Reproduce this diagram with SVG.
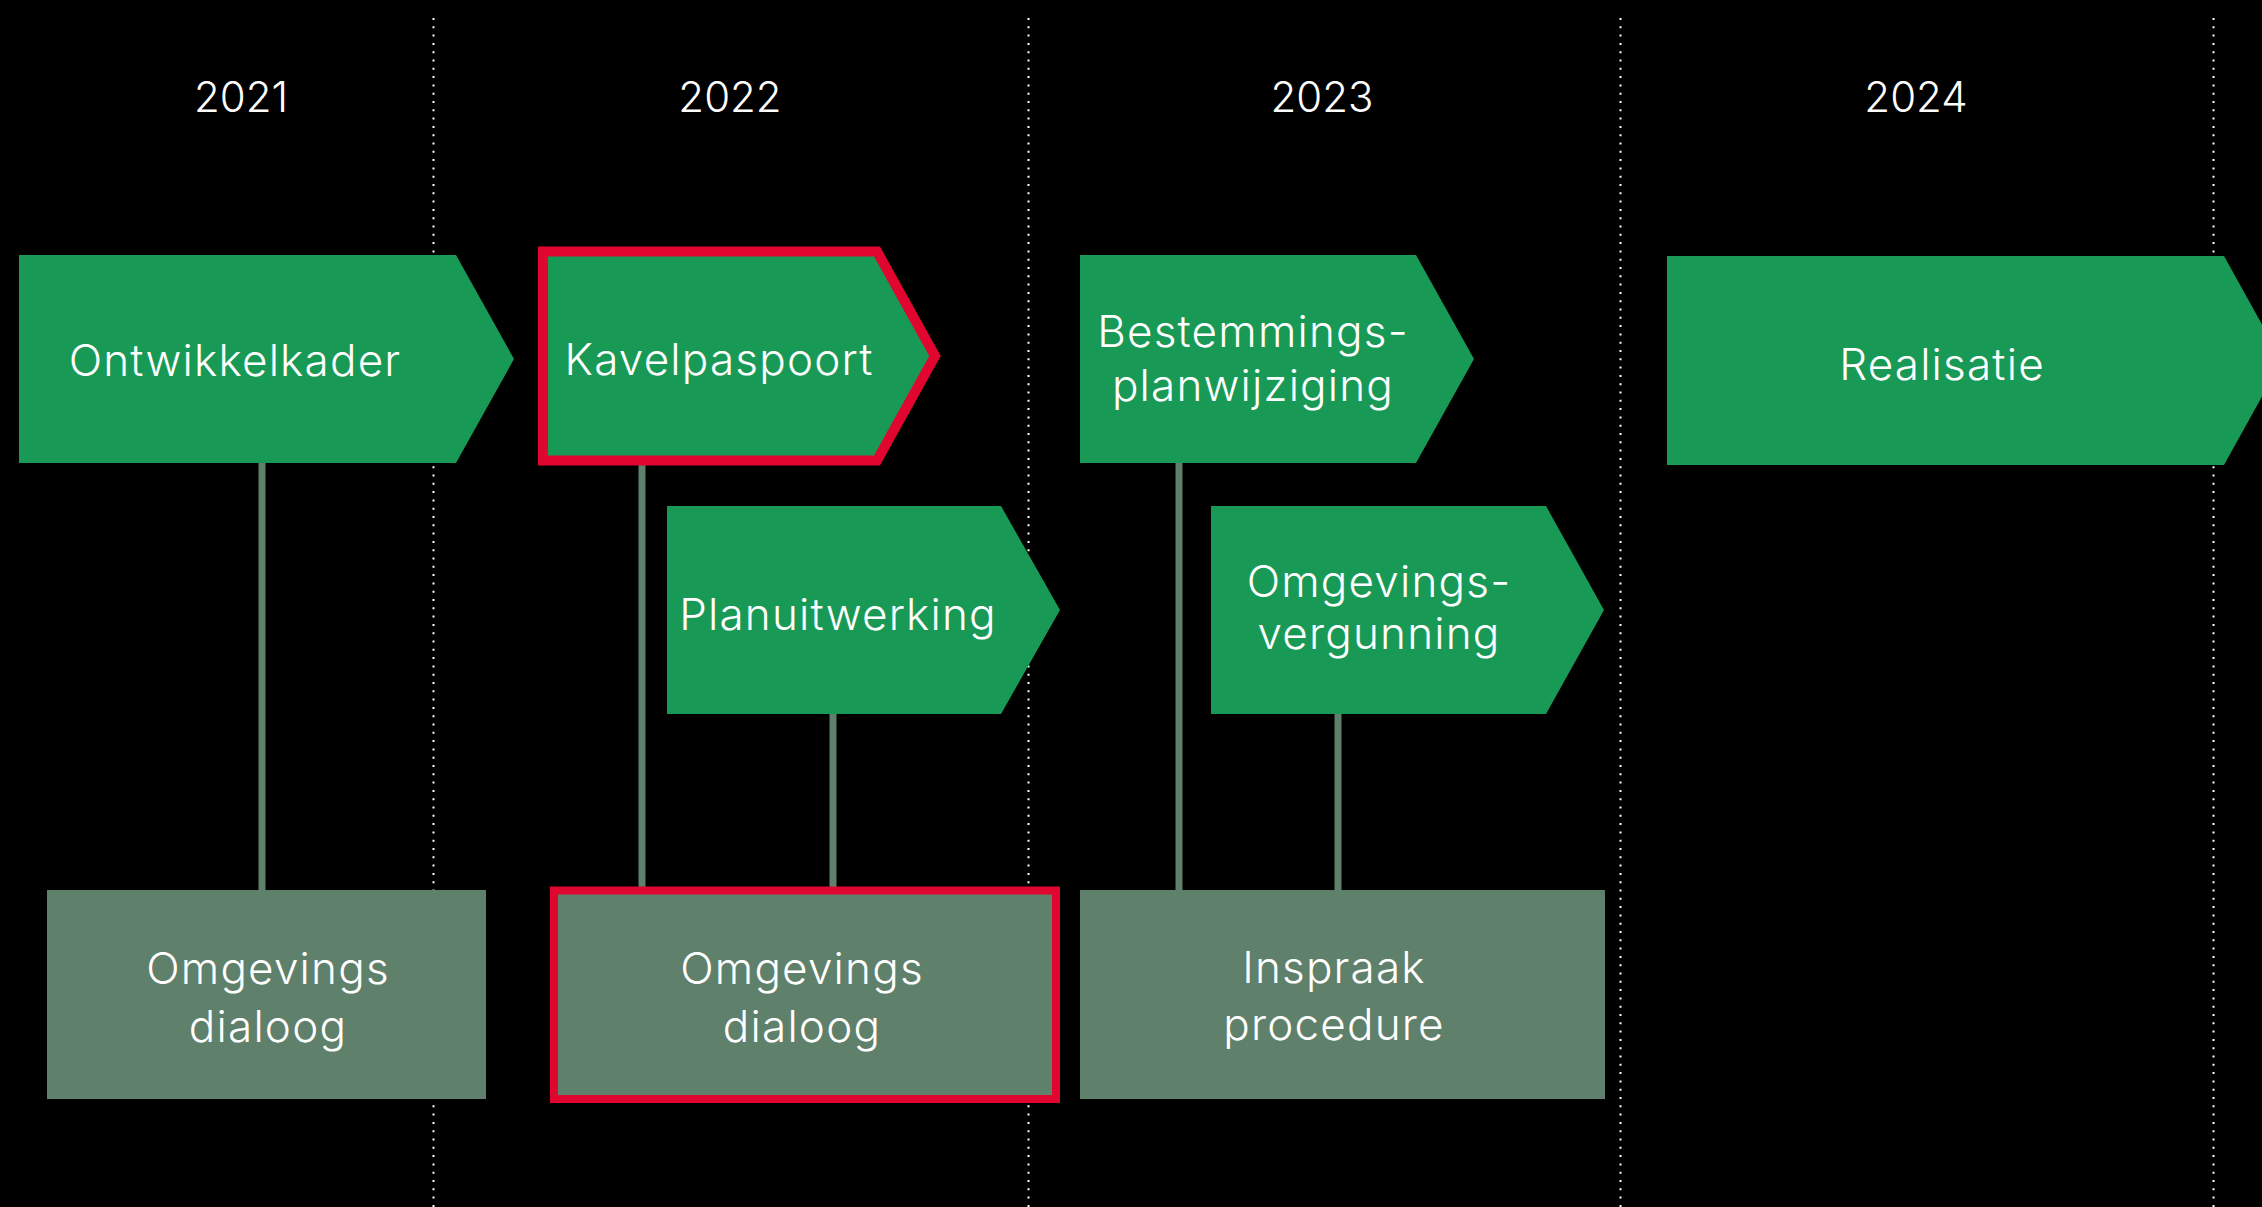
<svg xmlns="http://www.w3.org/2000/svg" width="2262" height="1207" viewBox="0 0 2262 1207">
<style>
.grid{stroke:#ffffff;stroke-width:2;stroke-dasharray:2 6.3;fill:none}
.conn{stroke:#5f806a;stroke-width:7;fill:none}
.phase{fill:#189a56}
.sub{fill:#5f806a}
.hl{stroke:#e0062f;stroke-width:10;stroke-linejoin:miter}
.hl2{stroke:#e0062f;stroke-width:8}
text{font-family:Inter,"Open Sans","Liberation Sans",sans-serif;font-size:44px;letter-spacing:1.2px;font-weight:300;fill:#ffffff;text-anchor:middle}
.yr{font-size:42px;letter-spacing:0}
</style>
<rect x="0" y="0" width="2262" height="1207" fill="#000000"/>
<g id="grid">
<line class="grid" x1="433.5" y1="18" x2="433.5" y2="1207"/>
<line class="grid" x1="1028.5" y1="18" x2="1028.5" y2="1207"/>
<line class="grid" x1="1620.5" y1="18" x2="1620.5" y2="1207"/>
<line class="grid" x1="2213.5" y1="18" x2="2213.5" y2="1207"/>
</g>
<g id="years">
<text class="yr" x="241" y="112">2021</text>
<text class="yr" x="730" y="112">2022</text>
<text class="yr" x="1322" y="112">2023</text>
<text class="yr" x="1916" y="112">2024</text>
</g>
<g id="connectors">
<line class="conn" x1="262" y1="460" x2="262" y2="892"/>
<line class="conn" x1="642" y1="462" x2="642" y2="888"/>
<line class="conn" x1="833" y1="712" x2="833" y2="888"/>
<line class="conn" x1="1179" y1="460" x2="1179" y2="892"/>
<line class="conn" x1="1338" y1="712" x2="1338" y2="892"/>
</g>
<g id="ontwikkelkader">
<polygon class="phase" points="19,255 456,255 514,359 456,463 19,463"/>
<text x="235" y="376">Ontwikkelkader</text>
</g>
<g id="kavelpaspoort">
<polygon class="phase hl" points="543,251.5 877,251.5 935,356 877,460.5 543,460.5"/>
<text x="719" y="375">Kavelpaspoort</text>
</g>
<g id="planuitwerking">
<polygon class="phase" points="667,506 1001,506 1060,610 1001,714 667,714"/>
<text x="838" y="630">Planuitwerking</text>
</g>
<g id="bestemmingsplanwijziging">
<polygon class="phase" points="1080,255 1416,255 1474,359 1416,463 1080,463"/>
<text x="1253" y="347">Bestemmings-</text>
<text x="1253" y="401">planwijziging</text>
</g>
<g id="omgevingsvergunning">
<polygon class="phase" points="1211,506 1546,506 1604,610 1546,714 1211,714"/>
<text x="1379" y="597">Omgevings-</text>
<text x="1379" y="649">vergunning</text>
</g>
<g id="realisatie">
<polygon class="phase" points="1667,256 2224,256 2282,360.5 2224,465 1667,465"/>
<text x="1942" y="380">Realisatie</text>
</g>
<g id="omgevingsdialoog-2021">
<rect class="sub" x="47" y="890" width="439" height="209"/>
<text x="268" y="984">Omgevings</text>
<text x="268" y="1042">dialoog</text>
</g>
<g id="omgevingsdialoog-2022">
<rect class="sub hl2" x="554" y="890.5" width="502" height="208.5"/>
<text x="802" y="984">Omgevings</text>
<text x="802" y="1042">dialoog</text>
</g>
<g id="inspraakprocedure">
<rect class="sub" x="1080" y="890" width="525" height="209"/>
<text x="1334" y="983">Inspraak</text>
<text x="1334" y="1040">procedure</text>
</g>
</svg>
